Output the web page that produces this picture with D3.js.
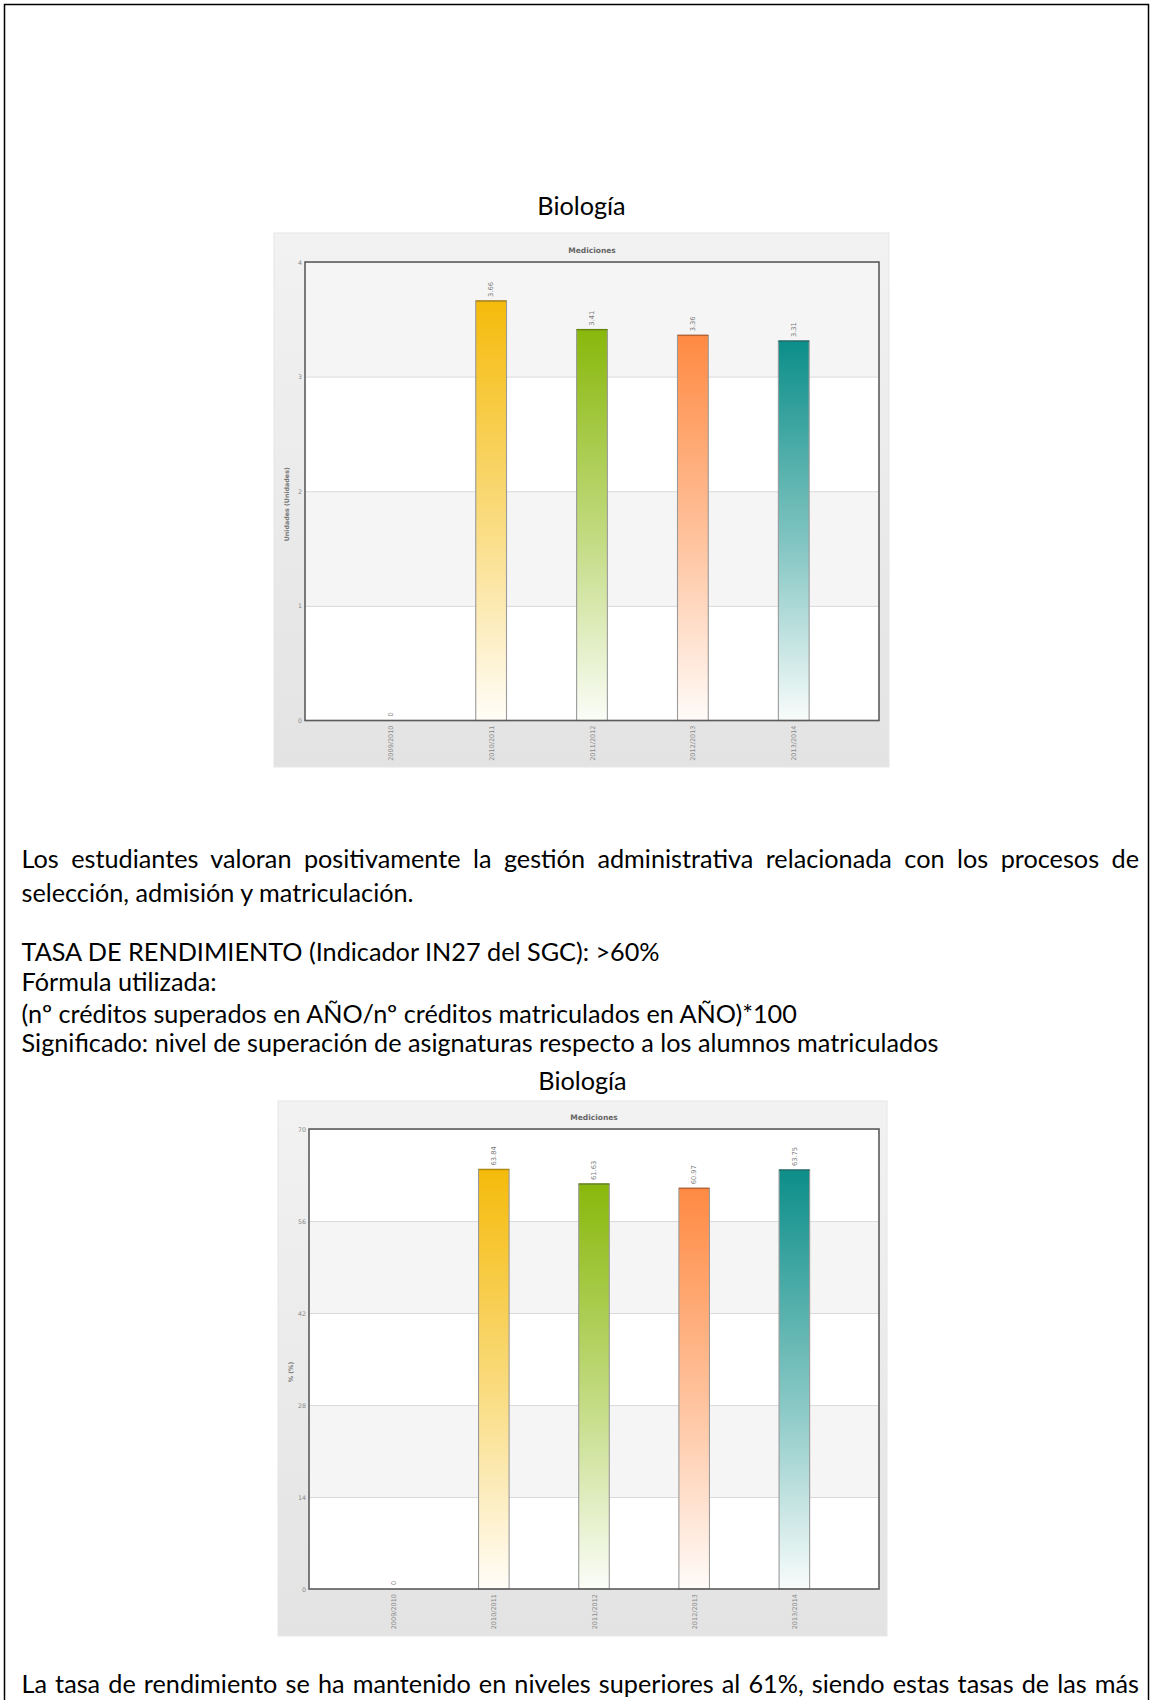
<!DOCTYPE html>
<html><head><meta charset="utf-8">
<script src="https://cdn.jsdelivr.net/npm/d3@7"></script>
<style>html,body{margin:0;padding:0;background:#fff;} svg{display:block}</style>
</head><body>
<svg id="page" width="1153" height="1700"></svg>
<script>
// ---------- DATA ----------
const categories = ["2009/2010", "2010/2011", "2011/2012", "2012/2013", "2013/2014"];
const satisfactionValues = [0, 3.66, 3.41, 3.36, 3.31];
const satisfactionLabels = ["0", "3.66", "3.41", "3.36", "3.31"];
const satisfactionTicks = [0, 1, 2, 3, 4];
const rendimientoValues = [0, 63.84, 61.63, 60.97, 63.75];
const rendimientoLabels = ["0", "63.84", "61.63", "60.97", "63.75"];
const rendimientoTicks = [0, 14, 28, 42, 56, 70];
const barColors = ["#3d85c6", "#f5bb0b", "#89b80b", "#ff8a42", "#0c8e89"];
const chartTitle = "Biología";
const chartInnerTitle = "Mediciones";
const yTitles = ["Unidades (Unidades)", "% (%)"];
const introText = [
  "Los estudiantes valoran positivamente la gestión administrativa relacionada con los procesos de",
  "selección, admisión y matriculación."
];
const indicatorText = [
  "TASA DE RENDIMIENTO (Indicador IN27 del SGC): >60%",
  "Fórmula utilizada:",
  "(nº créditos superados en AÑO/nº créditos matriculados en AÑO)*100",
  "Significado: nivel de superación de asignaturas respecto a los alumnos matriculados"
];
const closingText = [
  "La tasa de rendimiento se ha mantenido en niveles superiores al 61%, siendo estas tasas de las más"
];

// ---------- LAYOUT ----------
const svg = d3.select("#page");
const BODY_FONT = "Lato, 'Open Sans', sans-serif";
const CHART_FONT = "'DejaVu Sans', Verdana, sans-serif";
const TEXT_LEFT = 21.5, TEXT_RIGHT = 1139;

// page frame
svg.append("rect").attr("x", 4.5).attr("y", 4.5).attr("width", 1144).attr("height", 1800)
  .attr("fill", "none").attr("stroke", "#000").attr("stroke-width", 1.5);

function measure(text, size) {
  const t = svg.append("text").attr("font-family", BODY_FONT).attr("font-size", size).text(text);
  const w = t.node().getComputedTextLength();
  t.remove();
  return w;
}
const bodySize = 20 * (939 - TEXT_LEFT) / measure(indicatorText[3], 20);

function writeLines(lines, baselines, justifyFirst) {
  lines.forEach((txt, i) => {
    const t = svg.append("text").attr("x", TEXT_LEFT).attr("y", baselines[i])
      .attr("font-family", BODY_FONT).attr("font-size", bodySize).attr("fill", "#000").text(txt);
    if (justifyFirst && i === 0) {
      const nat = t.node().getComputedTextLength();
      const spaces = (txt.match(/ /g) || []).length;
      t.attr("word-spacing", (TEXT_RIGHT - TEXT_LEFT - nat) / spaces);
    }
  });
}
writeLines(introText, [868, 902], true);
writeLines(indicatorText, [961, 991, 1023, 1052], false);
writeLines(closingText, [1693], true);

const defs = svg.append("defs");
barColors.forEach((c, i) => {
  const g = defs.append("linearGradient").attr("id", "bar" + i)
    .attr("x1", 0).attr("y1", 0).attr("x2", 0).attr("y2", 1);
  g.append("stop").attr("offset", "0%").attr("stop-color", c);
  g.append("stop").attr("offset", "55%").attr("stop-color", d3.interpolateRgb(c, "#fff")(0.5));
  g.append("stop").attr("offset", "100%").attr("stop-color", d3.interpolateRgb(c, "#fff")(0.97));
});
const bg = defs.append("linearGradient").attr("id", "boxbg").attr("x1", 0).attr("y1", 0).attr("x2", 0).attr("y2", 1);
bg.append("stop").attr("offset", "0%").attr("stop-color", "#f2f2f2");
bg.append("stop").attr("offset", "100%").attr("stop-color", "#e3e3e3");

function drawChart(cfg, values, labels, ticks, yTitle) {
  svg.append("text").attr("x", (cfg.box[0] + cfg.box[2]) / 2).attr("y", cfg.titleY)
    .attr("text-anchor", "middle").attr("font-family", BODY_FONT).attr("font-size", bodySize)
    .attr("fill", "#000").text(chartTitle);

  const g = svg.append("g");
  g.append("rect").attr("x", cfg.box[0]).attr("y", cfg.box[1])
    .attr("width", cfg.box[2] - cfg.box[0]).attr("height", cfg.box[3] - cfg.box[1])
    .attr("fill", "url(#boxbg)").attr("stroke", "#e6e6e6").attr("stroke-width", 1);

  const [L, T, R, B] = cfg.plot;
  const x = d3.scalePoint().domain(categories).range([L, R]).padding(0.845);
  const y = d3.scaleLinear().domain([0, d3.max(ticks)]).range([B, T]);
  const barW = x.step() * 0.305;

  // alternating bands
  for (let i = 0; i < ticks.length - 1; i++) {
    g.append("rect").attr("x", L).attr("width", R - L)
      .attr("y", y(ticks[i + 1])).attr("height", y(ticks[i]) - y(ticks[i + 1]))
      .attr("fill", i % 2 === 0 ? "#ffffff" : "#f5f5f5");
  }
  // gridlines
  g.append("g").attr("transform", `translate(${L},0)`)
    .call(d3.axisLeft(y).tickValues(ticks).tickSize(-(R - L)).tickFormat(""))
    .call(s => s.select(".domain").remove())
    .call(s => s.selectAll("line").attr("stroke", "#dadada").attr("stroke-width", 1));

  g.append("text").attr("x", (L + R) / 2).attr("y", cfg.innerTitleY)
    .attr("text-anchor", "middle").attr("font-family", CHART_FONT).attr("font-size", 7.5)
    .attr("font-weight", "bold").attr("fill", "#666").text(chartInnerTitle);

  // y tick labels
  g.append("g").attr("transform", `translate(${L},0)`)
    .call(d3.axisLeft(y).tickValues(ticks).tickSize(0).tickPadding(3).tickFormat(d3.format("d")))
    .call(s => s.select(".domain").remove())
    .call(s => s.selectAll("text").attr("font-family", CHART_FONT).attr("font-size", 6.3).attr("fill", "#888"));

  // y title
  g.append("text").attr("transform", `translate(${L - 16},${(T + B) / 2 + 13}) rotate(-90)`)
    .attr("text-anchor", "middle").attr("font-family", CHART_FONT).attr("font-size", 6.3)
    .attr("font-weight", "bold").attr("fill", "#777").text(yTitle);

  // x labels
  g.append("g").attr("transform", `translate(0,${B})`)
    .call(d3.axisBottom(x).tickSize(0).tickPadding(0))
    .call(s => s.select(".domain").remove())
    .call(s => s.selectAll("text").attr("transform", "translate(0,5) rotate(-90)")
      .attr("text-anchor", "end").attr("dy", "0.32em").attr("y", 0).attr("x", 0)
      .attr("font-family", CHART_FONT).attr("font-size", 6.5).attr("fill", "#888"));

  const data = categories.map((c, i) => ({ c, v: values[i], l: labels[i], i }));
  const bars = data.filter(d => d.v > 0);
  g.selectAll("rect.bar").data(bars).enter().append("rect").attr("class", "bar")
    .attr("x", d => x(d.c) - barW / 2).attr("width", barW)
    .attr("y", d => y(d.v)).attr("height", d => y(0) - y(d.v))
    .attr("fill", d => `url(#bar${d.i})`).attr("stroke", "#9a9a9a").attr("stroke-width", 1.1);
  g.selectAll("line.bartop").data(bars).enter().append("line")
    .attr("x1", d => x(d.c) - barW / 2).attr("x2", d => x(d.c) + barW / 2)
    .attr("y1", d => y(d.v)).attr("y2", d => y(d.v))
    .attr("stroke", d => d3.color(barColors[d.i]).darker(0.9)).attr("stroke-width", 1.4);

  g.selectAll("text.val").data(data).enter().append("text")
    .attr("transform", d => `translate(${x(d.c) + 2.3},${y(d.v) - 4}) rotate(-90)`)
    .attr("font-family", CHART_FONT).attr("font-size", 6.7).attr("fill", "#777").text(d => d.l);

  // plot frame
  g.append("rect").attr("x", L).attr("y", T).attr("width", R - L).attr("height", B - T)
    .attr("fill", "none").attr("stroke", "#5c5c5c").attr("stroke-width", 1.6);
}

drawChart({ box: [274, 233, 889, 767], plot: [305, 262, 879, 720.5], titleY: 215, innerTitleY: 253 },
  satisfactionValues, satisfactionLabels, satisfactionTicks, yTitles[0]);
drawChart({ box: [278, 1101, 887, 1636], plot: [309, 1129, 879, 1589], titleY: 1090, innerTitleY: 1120 },
  rendimientoValues, rendimientoLabels, rendimientoTicks, yTitles[1]);
</script>
</body></html>
